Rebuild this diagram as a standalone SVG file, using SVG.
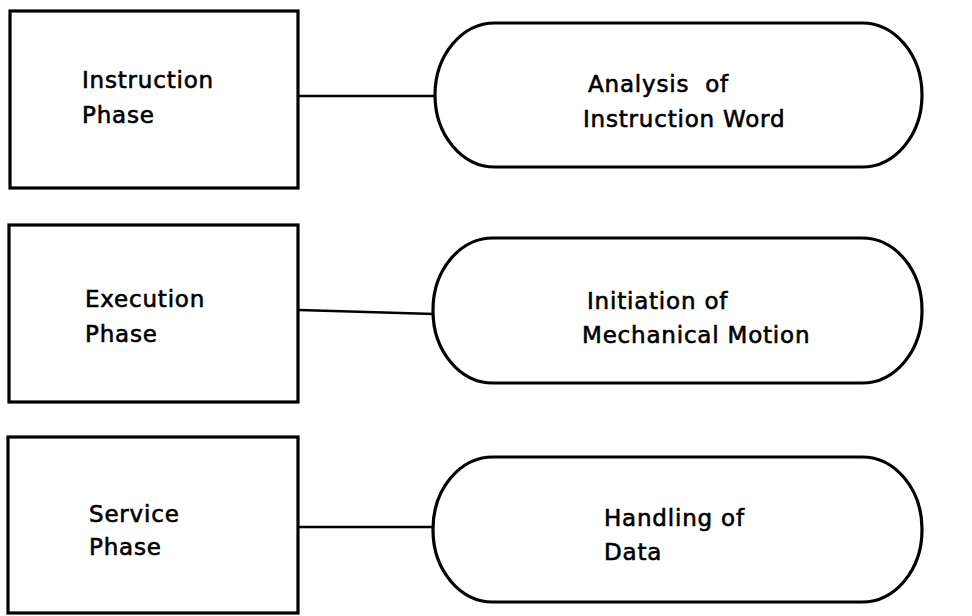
<svg xmlns="http://www.w3.org/2000/svg" width="972" height="616" viewBox="0 0 972 616">
  <style>
    .box { fill: #fff; stroke: #000; stroke-width: 3.2; }
    .link { fill: none; stroke: #000; stroke-width: 2.6; }
    .lbl { font-family: "DejaVu Sans", "Liberation Sans", sans-serif; font-size: 23px; fill: #000; stroke: #000; stroke-width: 0.6; letter-spacing: 0.8px; }
  </style>
  <rect width="972" height="616" fill="#fff"/>

  <!-- connectors between phase boxes and their activities -->
  <g id="connectors">
    <line class="link" x1="299" y1="96" x2="436" y2="96"/>
    <line class="link" x1="299" y1="310" x2="434" y2="314"/>
    <line class="link" x1="298" y1="527" x2="434" y2="527"/>
  </g>

  <!-- phases -->
  <g id="instruction-phase">
    <rect class="box" x="10" y="11" width="288" height="177"/>
    <text class="lbl" x="82" y="88">Instruction</text>
    <text class="lbl" x="82" y="123">Phase</text>
  </g>
  <g id="execution-phase">
    <rect class="box" x="9" y="225" width="289" height="177"/>
    <text class="lbl" x="85" y="307">Execution</text>
    <text class="lbl" x="85" y="342">Phase</text>
  </g>
  <g id="service-phase">
    <rect class="box" x="8" y="437" width="290" height="176"/>
    <text class="lbl" x="89" y="522">Service</text>
    <text class="lbl" x="89" y="555">Phase</text>
  </g>

  <!-- activities -->
  <g id="analysis">
    <rect class="box" x="435" y="23" width="487" height="144" rx="60" ry="72"/>
    <text class="lbl" x="588" y="92">Analysis<tspan dx="16">of</tspan></text>
    <text class="lbl" x="583" y="127">Instruction Word</text>
  </g>
  <g id="initiation">
    <rect class="box" x="433" y="238" width="489" height="145" rx="60" ry="72"/>
    <text class="lbl" x="587" y="309">Initiation of</text>
    <text class="lbl" x="582" y="343">Mechanical Motion</text>
  </g>
  <g id="handling">
    <rect class="box" x="433" y="457" width="489" height="145" rx="60" ry="72"/>
    <text class="lbl" x="604" y="526">Handling of</text>
    <text class="lbl" x="604" y="560">Data</text>
  </g>
</svg>
